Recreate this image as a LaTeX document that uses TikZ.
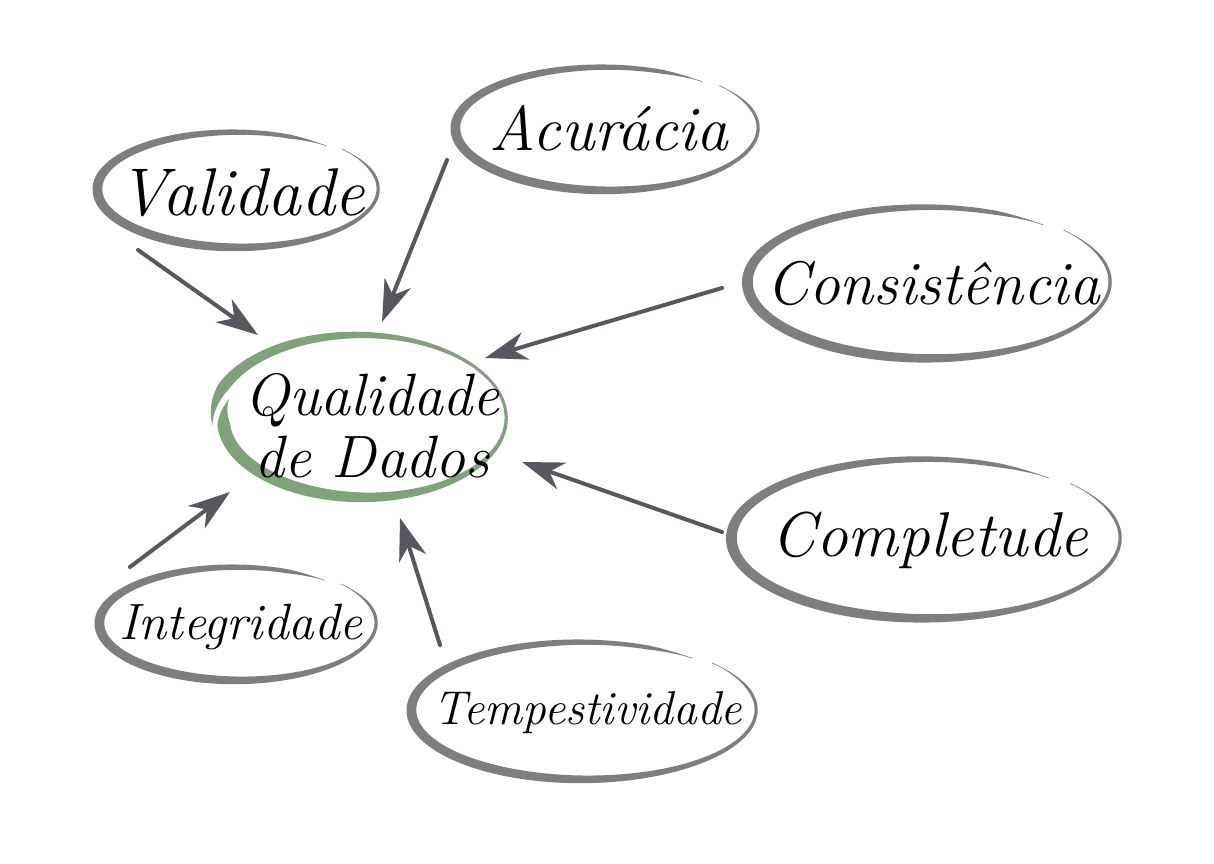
\documentclass[tikz,border=0pt]{standalone}
\usetikzlibrary{arrows.meta}
\definecolor{ringgray}{HTML}{7E7E7E}
\definecolor{ringgreen}{HTML}{7EA379}
\definecolor{arrowc}{HTML}{5A5661}
\def\bdrift{3}
\tikzset{
  declare function={
    tpr(\t)=min(1,\t/0.07,(1-\t)/0.05);
    bw(\th,\st,\en,\wa,\wb)=max(0.7,(\wa+\wb*(1+cos(\th-200))/2)*tpr((\st-\th)/(\st-\en)));
    bo(\th,\st,\en)=\bdrift*(0.5-(\st-\th)/(\st-\en));
  },
  lbl/.style={text=black, inner sep=0pt},
  conn/.style={arrowc, line width=0.04cm, line cap=round,
    -{Stealth[length=0.42cm,width=0.28cm,inset=0.13cm]}},
}
% cx, cy, rx, ry, start angle, end angle, w0, w1, colour
\newcommand\brushring[9]{%
  \fill[#9]
    plot[domain=#6:#5,samples=220]
      ({#1+(#3+bo(\x,#5,#6)+0.5*bw(\x,#5,#6,#7,#8))*cos(\x)},
       {#2-(#4+bo(\x,#5,#6)+0.5*bw(\x,#5,#6,#7,#8))*sin(\x)})
    -- plot[domain=#5:#6,samples=220]
      ({#1+(#3+bo(\x,#5,#6)-0.5*bw(\x,#5,#6,#7,#8))*cos(\x)},
       {#2-(#4+bo(\x,#5,#6)-0.5*bw(\x,#5,#6,#7,#8))*sin(\x)})
    -- cycle;}
\begin{document}
\begin{tikzpicture}[x=0.01cm,y=-0.01cm]
\fill[white] (0,0) rectangle (1214,864);
\useasboundingbox (0,0) rectangle (1214,864);

% rings
\brushring{237}{189}{140}{58}{42}{-310}{3}{7}{ringgray}
\brushring{606}{128}{151}{62}{42}{-310}{3}{7}{ringgray}
\brushring{928}{282}{181}{76}{42}{-310}{3}{8}{ringgray}
\brushring{925}{538}{194}{80}{42}{-310}{3}{8}{ringgray}
\brushring{583}{710}{172}{69}{42}{-310}{3}{7}{ringgray}
\brushring{237}{623}{138}{57}{42}{-310}{3}{7}{ringgray}
\def\bdrift{12}
\brushring{362}{419}{144}{81}{184}{-195}{3}{10}{ringgreen}

% labels
\node[lbl, font=\itshape\fontsize{19.2}{21}\selectfont] (val) at (242,193) {Validade};
\node[lbl, font=\itshape\fontsize{18}{20}\selectfont] (acu) at (609,128) {Acurácia};
\node[lbl, font=\itshape\fontsize{17.5}{20}\selectfont] (con) at (933,283) {Consistência};
\node[lbl, font=\itshape\fontsize{18}{20}\selectfont] (com) at (930,540) {Completude};
\node[lbl, font=\itshape\fontsize{14.5}{16}\selectfont] (int) at (241,627) {Integridade};
\node[lbl, font=\itshape\fontsize{13.5}{15}\selectfont] (tem) at (588,713) {Tempestividade};
\node[lbl, font=\itshape\fontsize{17}{17.5}\selectfont, align=center] (qd) at (372,426) {Qualidade\\de Dados};

% connector end points
\coordinate (valA) at (138,250); \coordinate (valB) at (258,335);
\coordinate (acuA) at (447,160); \coordinate (acuB) at (382,322);
\coordinate (conA) at (722,288); \coordinate (conB) at (485,358);
\coordinate (comA) at (722,532); \coordinate (comB) at (522,462);
\coordinate (temA) at (440,645); \coordinate (temB) at (400,518);
\coordinate (intA) at (130,567); \coordinate (intB) at (230,492);

\draw[conn] (valA) -- (valB);
\draw[conn] (acuA) -- (acuB);
\draw[conn] (conA) -- (conB);
\draw[conn] (comA) -- (comB);
\draw[conn] (temA) -- (temB);
\draw[conn] (intA) -- (intB);
\end{tikzpicture}
\end{document}
